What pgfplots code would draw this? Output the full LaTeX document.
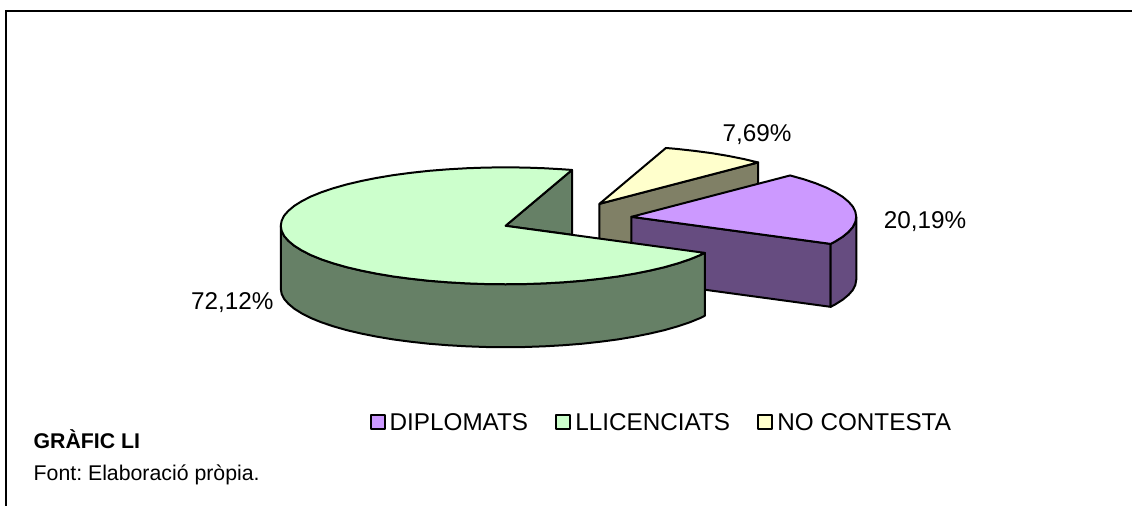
\documentclass[border=0pt]{standalone}
\usepackage{fontspec}
\setmainfont{Liberation Sans}
\usepackage{pgfplots}
\pgfplotsset{compat=1.18}
\frenchspacing
\definecolor{purpleTop}{HTML}{CC99FF}
\definecolor{purpleSide}{HTML}{664C80}
\definecolor{greenTop}{HTML}{CCFFCC}
\definecolor{greenSide}{HTML}{668066}
\definecolor{yellowTop}{HTML}{FFFFCC}
\definecolor{yellowSide}{HTML}{808066}
\newcommand{\lab}{\fontsize{24.3}{28}\selectfont}
\pgfplotsset{slice/.style={draw=black,line width=2pt,line join=round,mark=none,forget plot}}
\begin{document}
\begin{tikzpicture}
\begin{axis}[
  x=1pt,y=1pt,xmin=0,xmax=1133,ymin=0,ymax=506,y dir=reverse,
  hide axis,clip=false,
  legend columns=3,
  legend cell align=left,
  legend style={at={(axis cs:370,422)},anchor=west,draw=none,fill=none,inner sep=0pt,outer sep=0pt,
    font=\lab,
    /tikz/every even column/.append style={column sep=27.3pt},
    nodes={inner sep=0pt,outer sep=0pt,text depth=0pt}},
  legend image code/.code={\draw[#1,line width=2pt,line join=round] (0pt,-7pt) rectangle (14pt,7pt);\path[draw=none,fill=none] (0pt,0pt) -- (19pt,0pt);},
]
\addlegendimage{fill=purpleTop,draw=black}\addlegendentry{DIPLOMATS}
\addlegendimage{fill=greenTop,draw=black}\addlegendentry{LLICENCIATS}
\addlegendimage{fill=yellowTop,draw=black}\addlegendentry{NO CONTESTA}

% frame (top and left only)
\addplot[draw=black,line width=2pt,mark=none,forget plot] coordinates {(6,506) (6,11) (1133,11)};
\path (axis cs:0,0) rectangle (axis cs:1133,506);

% NO CONTESTA 7.69
\addplot[slice,fill=yellowSide] coordinates {(600,204) (758.8,162.6) (758.8,225.6) (600,267)} -- cycle;
\addplot[slice,fill=yellowTop] coordinates {(600,204) (666.5,148.1) (677,149) (695.1,151) (712.5,153.3) (729.1,156.1) (744.6,159.2) (758.8,162.6)} -- cycle;

% DIPLOMATS 20.19
\addplot[slice,fill=purpleSide] coordinates {(632,217) (831.4,244.1) (831.4,307.1) (632,280)} -- cycle;
\addplot[slice,fill=purpleSide] coordinates {(857,217) (856.1,222.1) (853.6,227.2) (849.3,232.1) (843.4,237) (835.9,241.7) (831.4,244.1) (831.4,307.1) (835.9,304.7) (843.4,300) (849.3,295.1) (853.6,290.2) (856.1,285.1) (857,280)} -- cycle;
\addplot[slice,fill=purpleTop] coordinates {(632,217) (790.8,175.6) (804.4,179.4) (816.3,183.4) (826.9,187.7) (835.9,192.3) (843.4,197) (849.3,201.9) (853.6,206.8) (856.1,211.9) (857,217) (856.1,222.1) (853.6,227.2) (849.3,232.1) (843.4,237) (835.9,241.7) (831.4,244.1)} -- cycle;

% LLICENCIATS 72.12
\addplot[slice,fill=greenSide] coordinates {(506,226) (572.5,170.1) (572.5,235)} -- cycle;
\addplot[slice,fill=greenSide] coordinates {(281,226) (281.9,231.1) (284.4,236.2) (288.7,241.1) (294.6,246) (302.1,250.7) (311.1,255.3) (321.7,259.6) (333.6,263.6) (346.9,267.4) (361.4,270.8) (376.9,273.9) (393.5,276.7) (410.9,279) (429,281) (447.8,282.5) (466.9,283.6) (486.4,284.3) (506,284.5) (525.6,284.3) (545.1,283.6) (564.2,282.5) (583,281) (601.1,279) (618.5,276.7) (635.1,273.9) (650.6,270.8) (665.1,267.4) (678.4,263.6) (690.3,259.6) (700.9,255.3) (705.4,253.1)
 (705.4,316.1) (700.9,318.3) (690.3,322.6) (678.4,326.6) (665.1,330.4) (650.6,333.8) (635.1,336.9) (618.5,339.7) (601.1,342) (583,344) (564.2,345.5) (545.1,346.6) (525.6,347.3) (506,347.5) (486.4,347.3) (466.9,346.6) (447.8,345.5) (429,344) (410.9,342) (393.5,339.7) (376.9,336.9) (361.4,333.8) (346.9,330.4) (333.6,326.6) (321.7,322.6) (311.1,318.3) (302.1,313.7) (294.6,309) (288.7,304.1) (284.4,299.2) (281.9,294.1) (281,289)} -- cycle;
\addplot[slice,fill=greenTop] coordinates {(506,226) (572.5,170.1) (564.2,169.5) (545.1,168.4) (525.6,167.7) (506,167.5) (486.4,167.7) (466.9,168.4) (447.8,169.5) (429,171) (410.9,173) (393.5,175.3) (376.9,178.1) (361.4,181.2) (346.9,184.6) (333.6,188.4) (321.7,192.4) (311.1,196.7) (302.1,201.3) (294.6,206) (288.7,210.9) (284.4,215.8) (281.9,220.9) (281,226) (281.9,231.1) (284.4,236.2) (288.7,241.1) (294.6,246) (302.1,250.7) (311.1,255.3) (321.7,259.6) (333.6,263.6) (346.9,267.4) (361.4,270.8) (376.9,273.9) (393.5,276.7) (410.9,279) (429,281) (447.8,282.5) (466.9,283.6) (486.4,284.3) (506,284.5) (525.6,284.3) (545.1,283.6) (564.2,282.5) (583,281) (601.1,279) (618.5,276.7) (635.1,273.9) (650.6,270.8) (665.1,267.4) (678.4,263.6) (690.3,259.6) (700.9,255.3) (705.4,253.1)} -- cycle;

% value labels
\node[anchor=base west,inner sep=0pt,font=\lab] at (axis cs:723,142) {7,69\%};
\node[anchor=base west,inner sep=0pt,font=\lab] at (axis cs:884.5,229) {20,19\%};
\node[anchor=base west,inner sep=0pt,font=\lab] at (axis cs:191,310) {72,12\%};

% caption
\node[anchor=base west,inner sep=0pt,font=\fontsize{21.3}{25}\selectfont\bfseries] at (axis cs:33.5,449) {GRÀFIC LI};
\node[anchor=base west,inner sep=0pt,font=\fontsize{21.3}{25}\selectfont] at (axis cs:33.5,481) {Font: Elaboració pròpia.};
\end{axis}
\end{tikzpicture}
\end{document}
